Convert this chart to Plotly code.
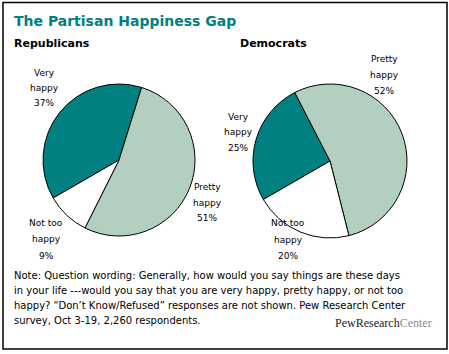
import plotly.graph_objects as go

W, H = 449, 354

categories = ["Very happy", "Pretty happy", "Not too happy"]
rep_values = [37, 51, 9]
dem_values = [25, 52, 20]
colors = ["#008080", "#b2cfbf", "#ffffff"]

title = "The Partisan Happiness Gap"
panel_titles = ["Republicans", "Democrats"]
note_lines = [
    "Note: Question wording: Generally, how would you say things are these days",
    "in your life ---would you say that you are very happy, pretty happy, or not too",
    "happy? \u201cDon\u2019t Know/Refused\u201d responses are not shown. Pew Research Center",
    "survey, Oct 3-19, 2,260 respondents.",
]

def px_x(x):
    return x / W

def px_y(y):
    return 1 - y / H

fig = go.Figure()

pie_boxes = [(43, 195, 84, 236), (253, 407, 84, 238)]
for vals, (x0, x1, y0, y1) in zip([rep_values, dem_values], pie_boxes):
    fig.add_trace(go.Pie(
        labels=categories, values=vals, sort=False, direction="clockwise",
        rotation=240, textinfo="none", hoverinfo="label+value",
        marker=dict(colors=colors, line=dict(color="#000000", width=1)),
        domain=dict(x=[px_x(x0), px_x(x1)], y=[px_y(y1), px_y(y0)]),
        showlegend=False,
    ))

ann = []
LBL_FONT = dict(family="DejaVu Sans", size=9, color="#000000")

# label line positions (centre x, list of line y) per pie per category
label_pos = [
    {"Very happy": (44, [73, 88, 103]),
     "Pretty happy": (207, [187, 203, 218]),
     "Not too happy": (46, [223, 239, 256])},
    {"Very happy": (238, [117, 132, 148]),
     "Pretty happy": (384, [59, 75, 91]),
     "Not too happy": (288, [223, 240, 256])},
]
for vals, pos in zip([rep_values, dem_values], label_pos):
    for cat, v in zip(categories, vals):
        words = cat.split(" ")
        lines = [" ".join(words[:-1]), words[-1], f"{v}%"]
        cx, ys = pos[cat]
        for t, yy in zip(lines, ys):
            ann.append(dict(text=t, x=px_x(cx), y=px_y(yy), xref="paper", yref="paper",
                            xanchor="center", yanchor="middle", showarrow=False, font=LBL_FONT))

ann.append(dict(text=f"<b>{title}</b>", x=px_x(12), y=px_y(21), xref="paper", yref="paper",
                xanchor="left", yanchor="middle", showarrow=False,
                font=dict(family="DejaVu Sans", size=14, color="#008080")))
for t, xx in zip(panel_titles, [12, 238]):
    ann.append(dict(text=f"<b>{t}</b>", x=px_x(xx), y=px_y(43), xref="paper", yref="paper",
                    xanchor="left", yanchor="middle", showarrow=False,
                    font=dict(family="DejaVu Sans", size=11, color="#000000")))

for i, t in enumerate(note_lines):
    ann.append(dict(text=t, x=px_x(12), y=px_y(275 + 15 * i), xref="paper", yref="paper",
                    xanchor="left", yanchor="middle", showarrow=False,
                    font=dict(family="DejaVu Sans", size=10, color="#000000")))

ann.append(dict(text="PewResearch<span style='color:#8a8a8a'>Center</span>",
                x=px_x(434), y=px_y(323), xref="paper", yref="paper",
                xanchor="right", yanchor="middle", showarrow=False,
                font=dict(family="Liberation Serif", size=12, color="#222222")))

fig.update_layout(
    width=W, height=H, margin=dict(l=0, r=0, t=0, b=0),
    paper_bgcolor="#ffffff", plot_bgcolor="#ffffff",
    annotations=ann,
    shapes=[dict(type="rect", xref="paper", yref="paper",
                 x0=px_x(3), x1=px_x(447), y0=px_y(349), y1=px_y(2.5),
                 line=dict(color="#000000", width=1.5))],
)

fig.write_html("out.html")
